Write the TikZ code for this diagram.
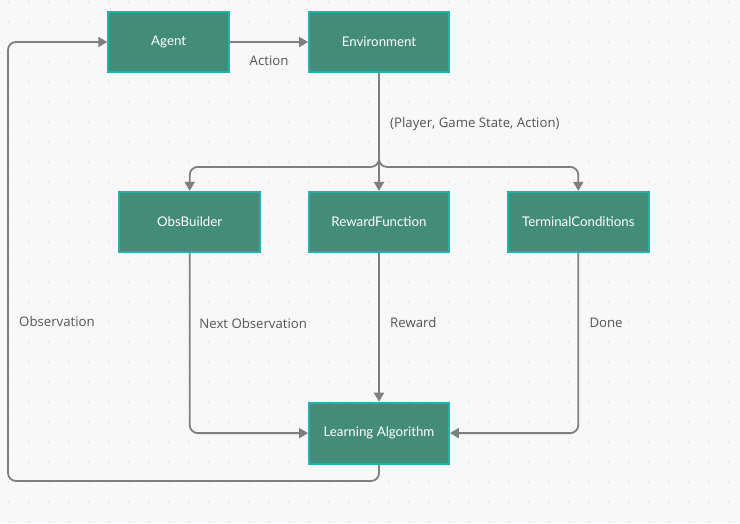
\documentclass[tikz,border=0pt]{standalone}
\usepackage{fontspec}
\setmainfont{Open Sans}
\newfontfamily\latofont{Lato}
\usetikzlibrary{arrows.meta, positioning}
\definecolor{boxfill}{HTML}{438C7A}
\definecolor{boxline}{HTML}{22B2A8}
\definecolor{wire}{HTML}{7F7F7F}
\definecolor{labeltext}{HTML}{555555}
\definecolor{paper}{HTML}{F8F8FA}
\definecolor{griddot}{HTML}{DCDCE0}
\tikzstyle{block} = [rectangle, minimum width=140pt, minimum height=60pt, text centered, draw=boxline, line width=1.8pt, fill=boxfill, text=white, font=\latofont\fontsize{13.3}{16}\selectfont]
\tikzstyle{arrow} = [line width=1.8pt, draw=wire, rounded corners=8pt, -{Triangle[length=9pt, width=10pt]}]
\tikzstyle{lbl} = [text=labeltext, font=\fontsize{13.2}{16}\selectfont]

\begin{document}
\begin{tikzpicture}[x=1pt, y=-1pt]
% background with dots
\fill[paper] (0,0) rectangle (740,523);
\useasboundingbox (0,0) rectangle (740,523);
\foreach \x in {9,29,...,729}
  \foreach \y in {2,22,...,522}
    \fill[griddot] (\x,\y) circle (0.9pt);

\node (env)   [block] at (379,42) {Environment};
\node (agent) [block, left=78pt of env, minimum width=121pt] {Agent};
\node (reward) [block, below=118pt of env] {RewardFunction};
\node (obs)   [block, left=47pt of reward, minimum width=141pt] {ObsBuilder};
\node (term)  [block, right=57pt of reward, minimum width=141pt] {TerminalConditions};
\node (learn) [block, below=149pt of reward, minimum height=61pt] {Learning Algorithm};

\coordinate (lowleft) at (8,481);
\coordinate (upleft)  at (8,42);

% top row
\draw [arrow] (agent.east) -- node[lbl, below=10pt] {Action} (env.west);

% fan out from the environment
\draw [arrow] (env.south) -- node[lbl, pos=0.43, right=7pt] {(Player, Game State, Action)} (reward.north);
\draw [arrow] (env.south) -- ++(0,94) -| (obs.north);
\draw [arrow] (env.south) -- ++(0,94) -| (term.north);

% into the learning algorithm
\draw [arrow] (obs.south) |- node[lbl, pos=0.195, right=5.5pt] {Next Observation} (learn.west);
\draw [arrow] (reward.south) -- node[lbl, pos=0.47, right=7pt] {Reward} (learn.north);
\draw [arrow] (term.south) |- node[lbl, pos=0.195, right=7pt] {Done} (learn.east);

% loop back to the agent
\draw [arrow] (learn.south) |- (lowleft) -- node[lbl, pos=0.364, right=7pt] {Observation} (upleft) -- (agent.west);

\end{tikzpicture}
\end{document}
